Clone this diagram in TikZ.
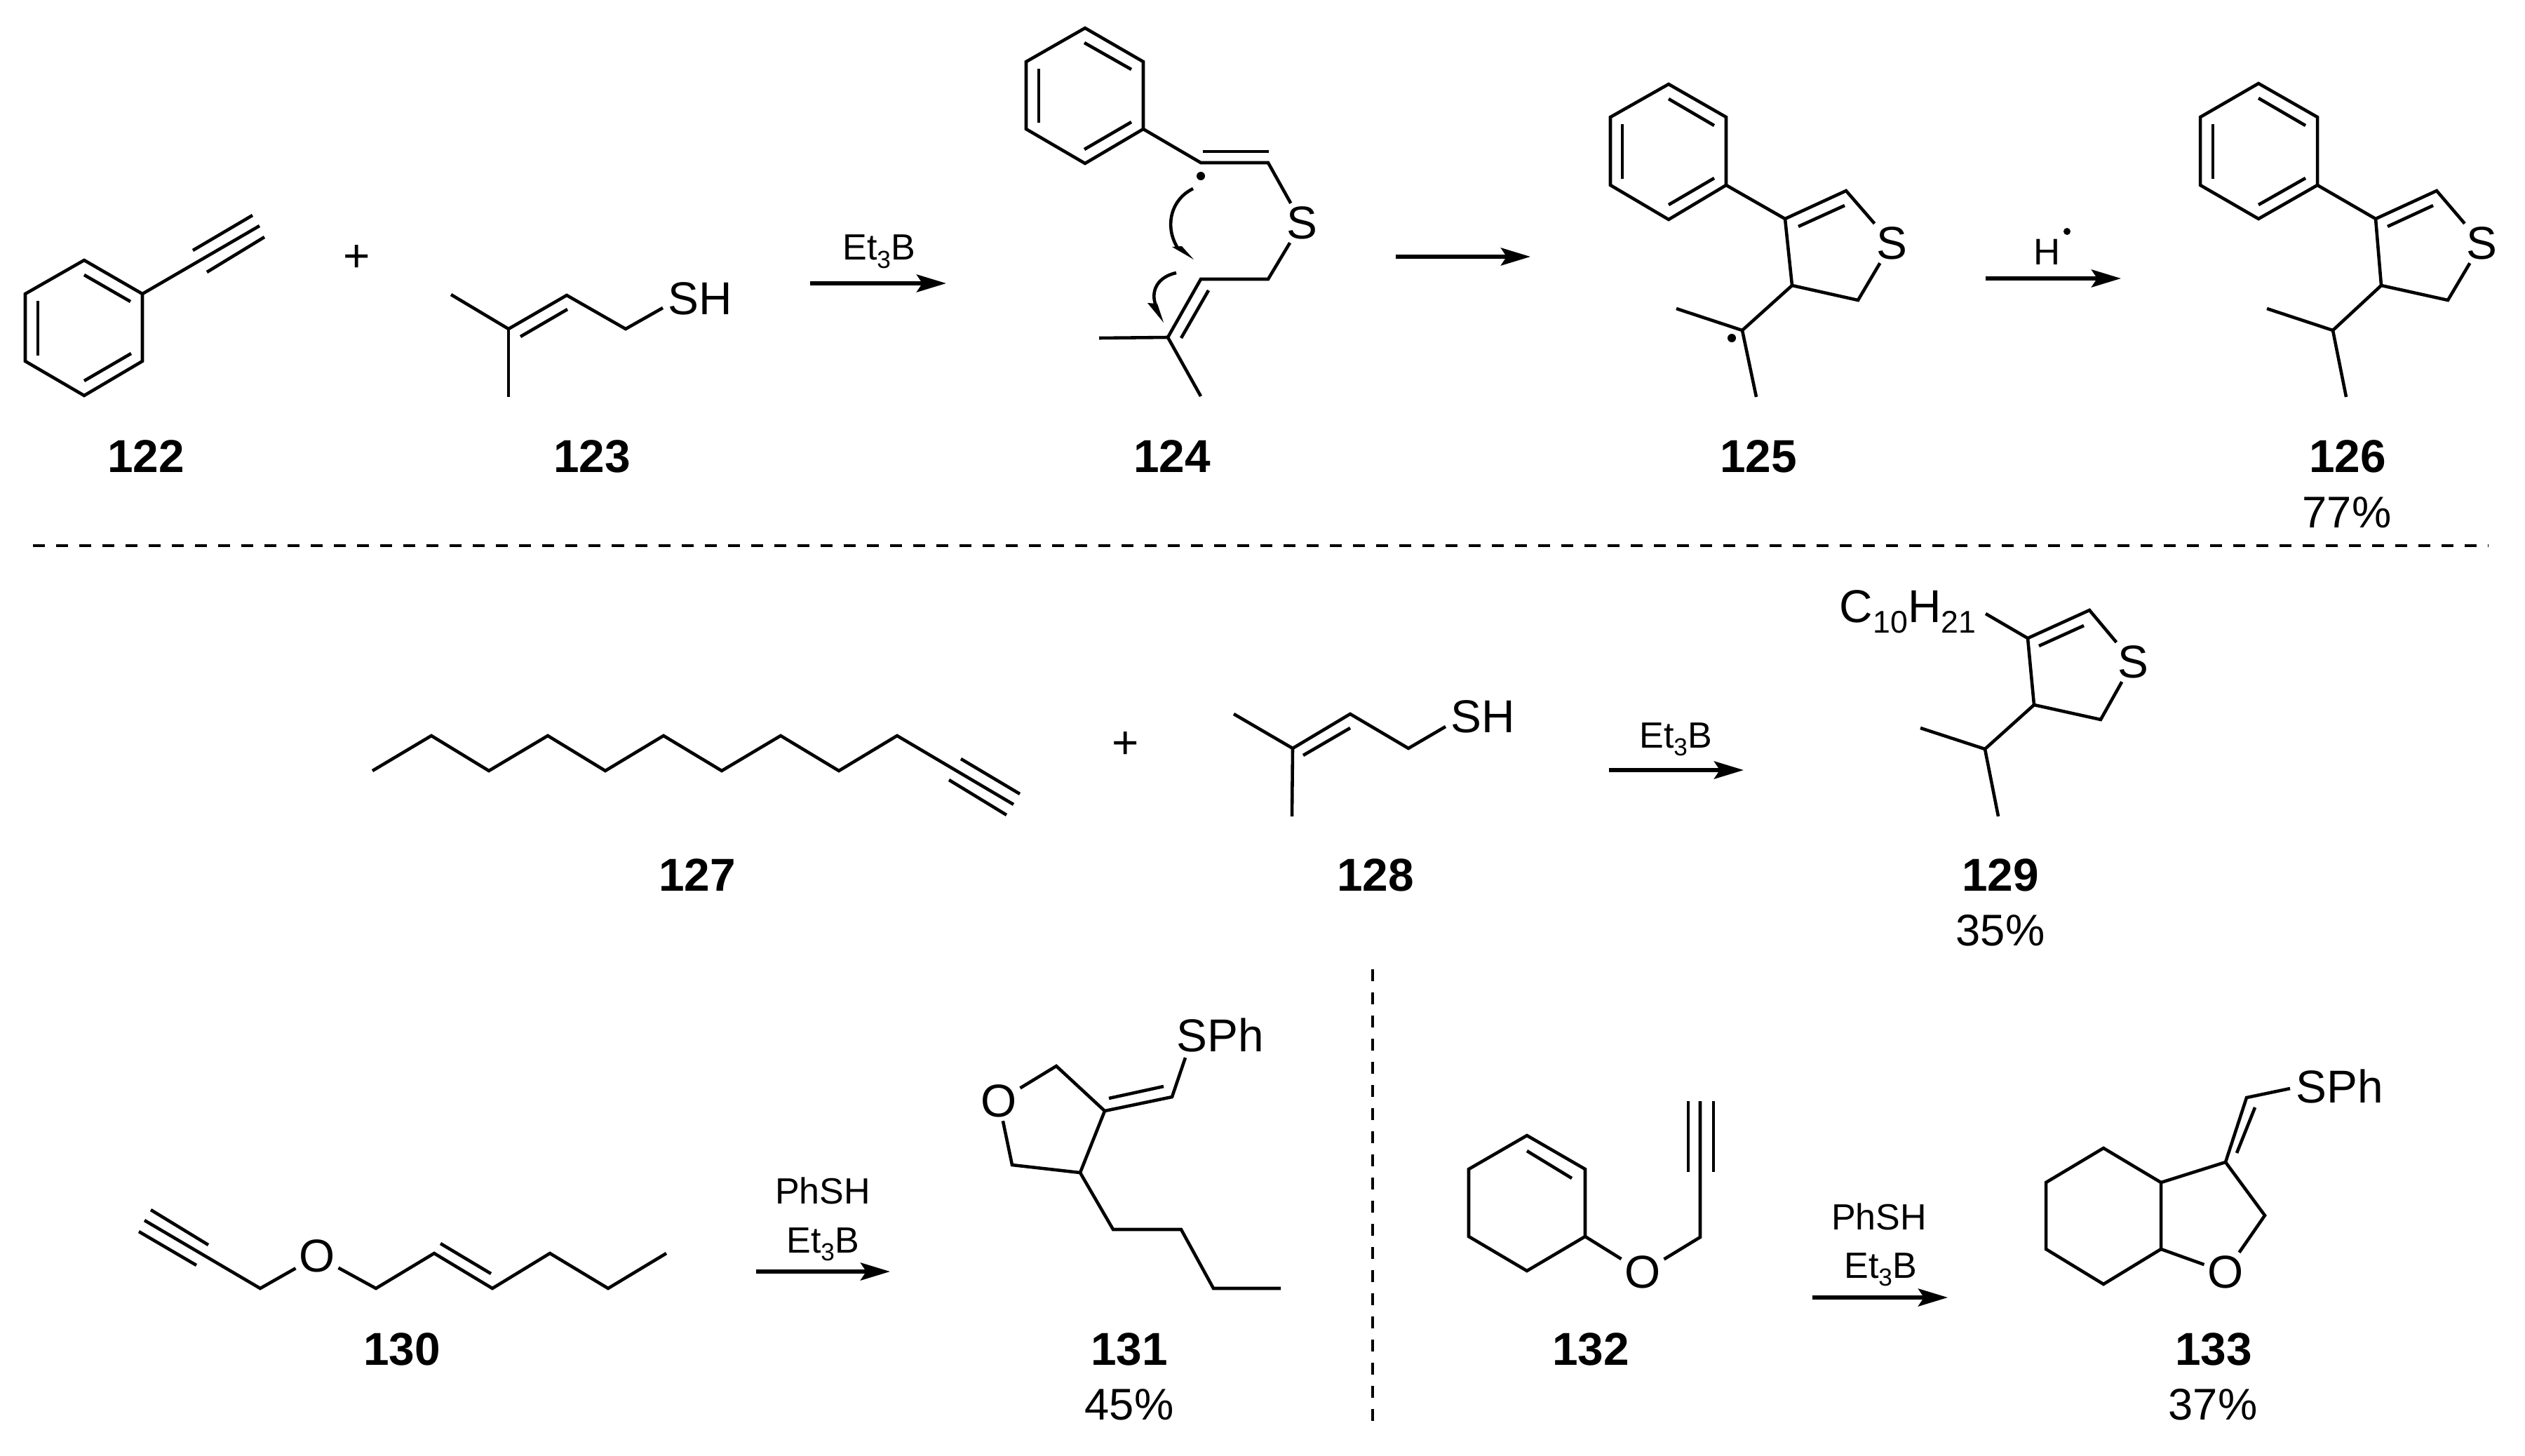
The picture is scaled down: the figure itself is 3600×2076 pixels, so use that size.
\documentclass[tikz,border=0pt]{standalone}
\usepackage{fontspec}
\setmainfont{Liberation Sans}
\usetikzlibrary{arrows.meta, positioning}
\newcommand{\atomsub}[1]{\raisebox{-0.24em}{\fontsize{12.7}{14}\selectfont #1}}
\newcommand{\reagentsub}[1]{\raisebox{-0.22em}{\fontsize{10}{12}\selectfont #1}}
\tikzstyle{bond} = [line width=1.3pt]
\tikzstyle{atom} = [font=\fontsize{18.7}{22}\selectfont, inner sep=1.2pt]
\tikzstyle{compound} = [font=\fontsize{18.7}{22}\selectfont\bfseries, inner sep=0pt]
\tikzstyle{yield} = [font=\fontsize{18}{22}\selectfont, inner sep=0pt]
\tikzstyle{reagent} = [font=\fontsize{14.8}{17}\selectfont, inner sep=0pt, anchor=base]
\tikzstyle{radical} = [circle, fill=black, inner sep=0pt, minimum size=0.12cm]
\tikzstyle{arrow} = [line width=1.6pt, -{Stealth[length=0.42cm, width=0.25cm, inset=0.08cm]}]
\tikzstyle{curly} = [line width=1.3pt]
\tikzstyle{separator} = [line width=1.35pt, dash pattern=on 0.17cm off 0.16cm]

\begin{document}
\begin{tikzpicture}[x=0.01cm, y=-0.01cm]
	\useasboundingbox (0,0) rectangle (3600,2076);

	% first row
	\node (Label122) [compound] at (208,651) {122};
	\node (Label123) [compound] at (844,651) {123};
	\node (Label124) [compound] at (1671,651) {124};
	\node (Label125) [compound] at (2507,651) {125};
	\node (Label126) [compound] at (3347,651) {126};
	\node (Yield126) [yield] at (3346,731) {77\%};
	\node (Plus01) [atom] at (509,369) {+};
	\node (SH123) [atom] at (998,426) {SH};
	\node (S124) [atom] at (1856,318) {S};
	\node (S125) [atom] at (2697,347) {S};
	\node (S126) [atom] at (3538,347) {S};
	\node (Reagent01) [reagent] at (1253,371) {Et\reagentsub{3}B};
	\node (Reagent02) [reagent, font=\fontsize{15}{18}\selectfont] at (2919,378) {H};
	\node (Dot124) [radical] at (1712,251) {};
	\node (Dot125) [radical] at (2469,482) {};
	\node (DotH) [radical, minimum size=0.1cm] at (2947,330) {};

	\coordinate (Arrow01a) at (1155,404);
	\coordinate (Arrow01b) at (1349,404);
	\coordinate (Arrow02a) at (1990,366);
	\coordinate (Arrow02b) at (2182,366);
	\coordinate (Arrow03a) at (2831,397);
	\coordinate (Arrow03b) at (3024,397);
	\draw [arrow] (Arrow01a) -- (Arrow01b);
	\draw [arrow] (Arrow02a) -- (Arrow02b);
	\draw [arrow] (Arrow03a) -- (Arrow03b);

	% 122
	\draw [bond] (120,371) -- (203,419) -- (203,515) -- (120,564) -- (36,515) -- (36,419) -- cycle;
	\draw [bond] (120,392) -- (186,430);
	\draw [bond] (187,504) -- (120,543);
	\draw [bond] (54,429) -- (54,507);
	\draw [bond] (203,419) -- (370,322);
	\draw [bond] (275,357) -- (360,307);
	\draw [bond] (295,388) -- (377,338);

	% 123
	\draw [bond] (643,420) -- (725,469) -- (808,421) -- (892,469) -- (945,439);
	\draw [bond] (725,469) -- (725,566);
	\draw [bond] (742,480) -- (809,441);

	% 124
	\draw [bond] (1547,40) -- (1630,88) -- (1630,184) -- (1547,233) -- (1463,184) -- (1463,88) -- cycle;
	\draw [bond] (1546,61) -- (1613,99);
	\draw [bond] (1613,174) -- (1546,213);
	\draw [bond] (1481,98) -- (1481,175);
	\draw [bond] (1630,184) -- (1712,232) -- (1808,232) -- (S124);
	\draw [bond] (1715,216) -- (1809,216);
	\draw [bond] (S124) -- (1808,398) -- (1712,398) -- (1665,481) -- (1567,482);
	\draw [bond] (1665,481) -- (1712,565);
	\draw [bond] (1723,414) -- (1684,482);
	\draw [curly] (1701,269) .. controls (1668,285) and (1660,325) .. (1680,355);
	\fill (1671,352) -- (1685,351) -- (1702,370) -- cycle;
	\draw [curly] (1677,389) .. controls (1650,395) and (1640,415) .. (1648,436);
	\fill (1636,432) -- (1650,433) -- (1659,460) -- cycle;

	% 125
	\draw [bond] (2379,120) -- (2461,167) -- (2461,264) -- (2379,313) -- (2296,264) -- (2296,167) -- cycle;
	\draw [bond] (2379,141) -- (2444,179);
	\draw [bond] (2444,254) -- (2379,292);
	\draw [bond] (2313,177) -- (2313,255);
	\draw [bond] (2461,264) -- (2545,312) -- (2632,272) -- (S125);
	\draw [bond] (2564,323) -- (2630,293);
	\draw [bond] (S125) -- (2649,428) -- (2555,407) -- (2545,312);
	\draw [bond] (2555,407) -- (2484,471) -- (2504,566);
	\draw [bond] (2484,471) -- (2390,440);

	% 126
	\draw [bond] (3220,119) -- (3304,167) -- (3304,264) -- (3220,312) -- (3137,264) -- (3137,167) -- cycle;
	\draw [bond] (3220,140) -- (3287,179);
	\draw [bond] (3287,254) -- (3220,292);
	\draw [bond] (3155,177) -- (3155,255);
	\draw [bond] (3304,264) -- (3387,312) -- (3474,272) -- (S126);
	\draw [bond] (3404,323) -- (3469,293);
	\draw [bond] (S126) -- (3490,428) -- (3395,407) -- (3387,312);
	\draw [bond] (3395,407) -- (3326,471) -- (3345,566);
	\draw [bond] (3326,471) -- (3232,440);

	% separator
	\coordinate (SepLeft) at (47,778);
	\coordinate (SepRight) at (3548,778);
	\draw [separator] (SepLeft) -- (SepRight);

	% second row
	\node (Label127) [compound] at (994,1248) {127};
	\node (Label128) [compound] at (1961,1248) {128};
	\node (Label129) [compound] at (2852,1248) {129};
	\node (Yield129) [yield] at (2852,1327) {35\%};
	\node (Plus02) [atom] at (1605,1063) {+};
	\node (SH128) [atom] at (2114,1022) {SH};
	\node (S129) [atom] at (3041,944) {S};
	\node (C10H21) [atom, anchor=base] at (2720,887) {C\atomsub{10}H\atomsub{21}};
	\node (Reagent04) [reagent] at (2389,1066) {Et\reagentsub{3}B};
	\coordinate (Arrow04a) at (2294,1098);
	\coordinate (Arrow04b) at (2486,1098);
	\draw [arrow] (Arrow04a) -- (Arrow04b);

	% 127
	\draw [bond] (531,1099) -- (615,1049) -- (697,1099) -- (781,1049) -- (863,1099) -- (946,1049) -- (1029,1099) -- (1113,1049) -- (1196,1099) -- (1279,1049) -- (1445,1147);
	\draw [bond] (1370,1082) -- (1454,1132);
	\draw [bond] (1353,1112) -- (1435,1162);

	% 128
	\draw [bond] (1759,1018) -- (1843,1067) -- (1925,1018) -- (2008,1067) -- (2061,1036);
	\draw [bond] (1843,1067) -- (1842,1164);
	\draw [bond] (1858,1077) -- (1925,1038);

	% 129
	\draw [bond] (2831,875) -- (2891,910) -- (2979,870) -- (S129);
	\draw [bond] (2907,921) -- (2971,892);
	\draw [bond] (S129) -- (2995,1026) -- (2900,1005) -- (2891,910);
	\draw [bond] (2900,1005) -- (2830,1068) -- (2849,1164);
	\draw [bond] (2830,1068) -- (2738,1038);

	% third row
	\node (Label130) [compound] at (573,1924) {130};
	\node (Label131) [compound] at (1610,1924) {131};
	\node (Yield131) [yield] at (1610,2003) {45\%};
	\node (Label132) [compound] at (2268,1924) {132};
	\node (Label133) [compound] at (3156,1924) {133};
	\node (Yield133) [yield] at (3155,2003) {37\%};
	\node (O130) [atom] at (452,1791) {O};
	\node (O131) [atom] at (1424,1570) {O};
	\node (O132) [atom] at (2342,1814) {O};
	\node (O133) [atom] at (3173,1814) {O};
	\node (SPh131) [atom] at (1740,1476) {SPh};
	\node (SPh133) [atom] at (3336,1549) {SPh};
	\node (Reagent05a) [reagent] at (1173,1716) {PhSH};
	\node (Reagent05b) [reagent] at (1173,1786) {Et\reagentsub{3}B};
	\node (Reagent06a) [reagent] at (2679,1753) {PhSH};
	\node (Reagent06b) [reagent] at (2681,1822) {Et\reagentsub{3}B};
	\coordinate (Arrow05a) at (1078,1813);
	\coordinate (Arrow05b) at (1269,1813);
	\coordinate (Arrow06a) at (2584,1850);
	\coordinate (Arrow06b) at (2777,1850);
	\draw [arrow] (Arrow05a) -- (Arrow05b);
	\draw [arrow] (Arrow06a) -- (Arrow06b);

	% 130
	\draw [bond] (206,1740) -- (371,1837) -- (O130);
	\draw [bond] (215,1725) -- (297,1775);
	\draw [bond] (198,1756) -- (280,1804);
	\draw [bond] (O130) -- (536,1837) -- (619,1787) -- (702,1837) -- (784,1787) -- (867,1837) -- (950,1787);
	\draw [bond] (628,1773) -- (700,1816);

	% 131
	\draw [bond] (O131) -- (1506,1520) -- (1575,1584) -- (1671,1564) -- (1690,1508);
	\draw [bond] (1581,1566) -- (1659,1549);
	\draw [bond] (1575,1584) -- (1540,1672) -- (1443,1661) -- (O131);
	\draw [bond] (1540,1672) -- (1587,1753) -- (1684,1753) -- (1730,1837) -- (1826,1837);

	% divider
	\coordinate (DivTop) at (1957,1382);
	\coordinate (DivBottom) at (1957,2036);
	\draw [separator] (DivTop) -- (DivBottom);

	% 132
	\draw [bond] (2177,1619) -- (2260,1667) -- (2260,1763) -- (2177,1812) -- (2094,1763) -- (2094,1667) -- cycle;
	\draw [bond] (2177,1641) -- (2241,1680);
	\draw [bond] (2260,1763) -- (O132);
	\draw [bond] (O132) -- (2424,1764) -- (2424,1570);
	\draw [bond] (2407,1570) -- (2407,1671);
	\draw [bond] (2443,1570) -- (2443,1671);

	% 133
	\draw [bond] (2999,1637) -- (3081,1686) -- (3081,1781) -- (2999,1831) -- (2917,1781) -- (2917,1686) -- cycle;
	\draw [bond] (3081,1686) -- (3173,1657) -- (3229,1733) -- (O133);
	\draw [bond] (O133) -- (3081,1781);
	\draw [bond] (3173,1657) -- (3203,1565) -- (3265,1552);
	\draw [bond] (3189,1644) -- (3215,1579);
\end{tikzpicture}
\end{document}
